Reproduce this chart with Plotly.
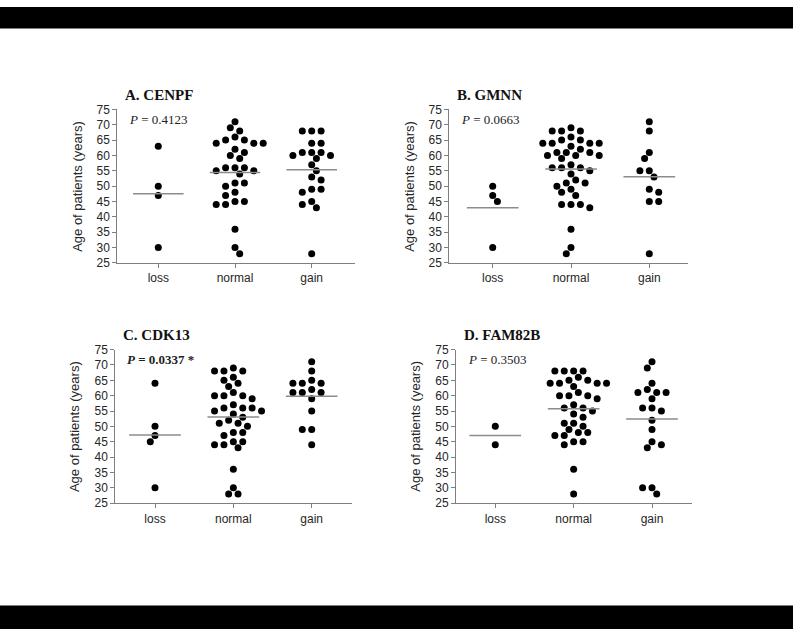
import numpy as np
import plotly.graph_objects as go

# ---------------- data ----------------
categories = ["loss", "normal", "gain"]
panel_titles = ["A. CENPF", "B. GMNN", "C. CDK13", "D. FAM82B"]
p_values = ["0.4123", "0.0663", "0.0337", "0.3503"]
p_significant = [False, False, True, False]
y_tick_values = [25, 30, 35, 40, 45, 50, 55, 60, 65, 70, 75]
y_title = "Age of patients (years)"

cenpf_loss = [63, 50, 47, 30]
cenpf_normal = [71, 69, 68, 66, 65, 65, 64, 64, 64, 62, 61, 60, 59, 56, 56, 56,
                55, 55, 54, 51, 51, 50, 48, 47, 45, 45, 44, 44, 36, 30, 28]
cenpf_gain = [68, 68, 68, 64, 64, 61, 61, 61, 60, 60, 59, 57, 55, 53, 52, 49,
              49, 48, 45, 44, 43, 28]

gmnn_loss = [50, 47, 45, 30]
gmnn_normal = [69, 68, 68, 68, 66, 65, 65, 64, 64, 64, 64, 63, 62, 61, 61, 61,
               60, 60, 60, 59, 57, 56, 56, 56, 55, 54, 52, 51, 51, 50, 49, 48,
               47, 44, 44, 44, 43, 36, 30, 28]
gmnn_gain = [71, 68, 61, 59, 55, 55, 53, 49, 48, 45, 45, 28]

cdk13_loss = [64, 50, 47, 45, 30]
cdk13_normal = [69, 68, 68, 68, 66, 65, 64, 63, 61, 60, 60, 60, 59, 57, 56, 56,
                56, 55, 55, 54, 53, 52, 51, 51, 50, 48, 48, 47, 45, 45, 44, 44,
                43, 36, 30, 28, 28]
cdk13_gain = [71, 68, 65, 64, 64, 64, 62, 61, 61, 61, 59, 55, 49, 49, 44]

fam82b_loss = [50, 44]
fam82b_normal = [68, 68, 68, 68, 66, 65, 65, 64, 64, 64, 64, 63, 61, 60, 60, 60,
                 59, 57, 56, 56, 55, 54, 53, 51, 51, 50, 49, 48, 48, 47, 47, 45,
                 45, 44, 36, 28]
fam82b_gain = [71, 69, 64, 62, 61, 61, 61, 59, 56, 56, 55, 52, 49, 45, 44, 43,
               30, 30, 28]

panels_data = [
    [cenpf_loss, cenpf_normal, cenpf_gain],
    [gmnn_loss, gmnn_normal, gmnn_gain],
    [cdk13_loss, cdk13_normal, cdk13_gain],
    [fam82b_loss, fam82b_normal, fam82b_gain],
]

# ---------------- layout geometry (pixels) ----------------
W, H = 793, 636
# (axis left px, axis right px, top px (75), bottom px (25), first cat px, last cat px)
geom = [
    (117.3, 355.0, 104.7, 261.7, 158.3, 311.7),
    (449.3, 688.3, 104.7, 261.7, 492.7, 649.3),
    (115.3, 351.7, 350.3, 507.3, 155.0, 311.7),
    (456.0, 691.7, 350.3, 507.3, 495.3, 652.0),
]


def px_x(p):
    return p / W


def px_y(p):
    return 1 - p / H


def swarm_offsets(values, ppu_y, ppu_x, step=4.7, dmin=7.0):
    """Greedy beeswarm: horizontal offsets so dots do not overlap."""
    placed = []
    offs = []
    for v in values:
        y = v * ppu_y
        cands = [0.0]
        for k in range(1, 30):
            if len(placed) % 2 == 0:
                cands += [k * step, -k * step]
            else:
                cands += [-k * step, k * step]
        chosen = cands[-1]
        for c in cands:
            if all((c - a) ** 2 + (y - b) ** 2 >= dmin ** 2 for a, b in placed):
                chosen = c
                break
        placed.append((chosen, y))
        offs.append(chosen / ppu_x)
    return offs


fig = go.Figure()
AX_COLOR = "#7f7f7f"
LABEL_COLOR = "#262626"

for i, (data, g) in enumerate(zip(panels_data, geom)):
    left, right, top, bottom, c0, c2 = g
    ppu_x = (c2 - c0) / 2.0
    ppu_y = (bottom - top) / 50.0
    xr = [-(c0 - left) / ppu_x, 2 + (right - c2) / ppu_x]
    sfx = "" if i == 0 else str(i + 1)
    xa, ya = "x" + sfx, "y" + sfx

    for ci, vals in enumerate(data):
        offs = swarm_offsets(vals, ppu_y, ppu_x)
        fig.add_trace(go.Scatter(
            x=[ci + o for o in offs], y=vals, mode="markers",
            marker=dict(color="black", size=7, line=dict(width=0)),
            xaxis=xa, yaxis=ya, showlegend=False, hoverinfo="y"))
        m = float(np.mean(vals))
        fig.add_trace(go.Scatter(
            x=[ci - 0.33, ci + 0.33], y=[m, m], mode="lines",
            line=dict(color="#8c8c8c", width=1.5),
            xaxis=xa, yaxis=ya, showlegend=False, hoverinfo="skip"))

    fig.layout["xaxis" + sfx] = dict(
        domain=[px_x(left), px_x(right)], range=xr, anchor=ya,
        tickvals=[0, 1, 2], ticktext=categories,
        showline=True, linecolor=AX_COLOR, linewidth=1,
        ticks="outside", ticklen=4, tickcolor=AX_COLOR,
        tickfont=dict(family="Arial, Liberation Sans", size=12, color=LABEL_COLOR),
        showgrid=False, zeroline=False, fixedrange=True)
    fig.layout["yaxis" + sfx] = dict(
        domain=[px_y(bottom), px_y(top)], range=[25, 75], anchor=xa,
        tickvals=y_tick_values,
        showline=True, linecolor=AX_COLOR, linewidth=1,
        ticks="outside", ticklen=4, tickcolor=AX_COLOR,
        tickfont=dict(family="Arial, Liberation Sans", size=12, color=LABEL_COLOR),
        showgrid=False, zeroline=False, fixedrange=True)

    # y-axis title
    fig.add_annotation(
        x=px_x(left - 40.6), y=px_y((top + bottom) / 2), xref="paper", yref="paper",
        text=y_title, textangle=-90, showarrow=False,
        xanchor="center", yanchor="middle",
        font=dict(family="Arial, Liberation Sans", size=13, color=LABEL_COLOR))
    # panel title
    fig.add_annotation(
        x=px_x(left + 6), y=px_y(top - 14.7), xref="paper", yref="paper",
        text="<b>%s</b>" % panel_titles[i], showarrow=False,
        xanchor="left", yanchor="middle",
        font=dict(family="Liberation Serif, Times New Roman", size=15, color="#111"))
    # p-value
    ptxt = "<i>P</i> = %s" % p_values[i]
    if p_significant[i]:
        ptxt = "<b>" + ptxt + " *</b>"
    fig.add_annotation(
        x=px_x(left + 10), y=px_y(top + 10.3), xref="paper", yref="paper",
        text=ptxt, showarrow=False, xanchor="left", yanchor="middle",
        font=dict(family="Liberation Serif, Times New Roman", size=13, color="#222"))

# black bars at top and bottom
fig.add_shape(type="rect", xref="paper", yref="paper", x0=0, x1=1,
              y0=px_y(22), y1=1, fillcolor="black", line=dict(width=0), layer="above")
fig.add_shape(type="rect", xref="paper", yref="paper", x0=0, x1=1,
              y0=0, y1=px_y(612), fillcolor="black", line=dict(width=0), layer="above")

fig.update_layout(
    width=W, height=H, margin=dict(l=0, r=0, t=0, b=0),
    paper_bgcolor="white", plot_bgcolor="white",
    showlegend=False)

fig.write_html("out.html",
               config={"displayModeBar": False},
               post_script="document.body.style.margin='0px';"
                           "document.body.style.overflow='hidden';")
